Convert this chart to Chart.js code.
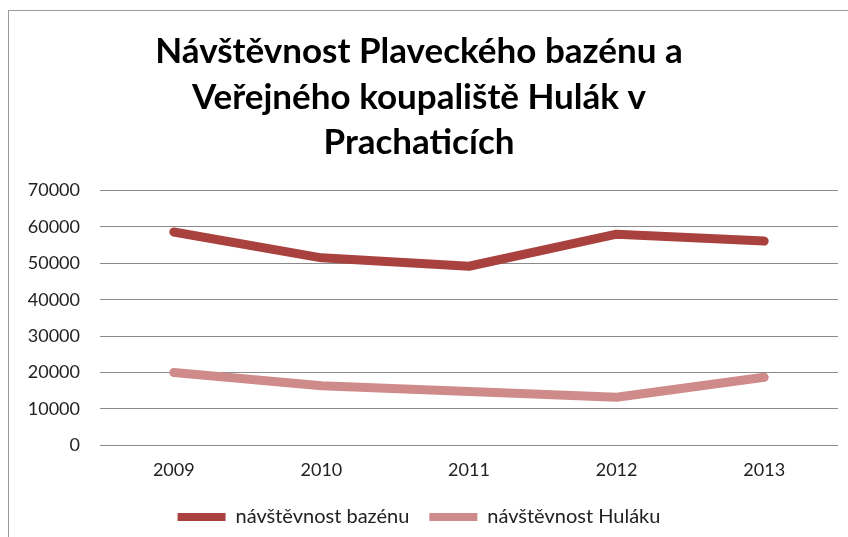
<!DOCTYPE html>
<html>
<head>
<meta charset="utf-8">
<script src="https://cdn.jsdelivr.net/npm/chart.js@4"></script>
<style>
  html, body { margin: 0; padding: 0; background: #fff; overflow: hidden; }
  #wrap { position: relative; width: 848px; height: 537px; }
  #frame {
    position: absolute; left: 8px; top: 10px; width: 900px; height: 600px;
    border: 1px solid #9a9a9a; box-sizing: border-box;
  }
  canvas { position: absolute; left: 0; top: 0; }
</style>
</head>
<body>
<div id="wrap">
  <div id="frame"></div>
  <canvas id="chart" width="848" height="537"></canvas>
</div>
<script>
// roky a návštěvnost
const years = ['2009', '2010', '2011', '2012', '2013'];
const bazen = [58600, 51500, 49200, 58000, 56100];
const hulak = [20000, 16400, 14800, 13200, 18700];
const yTicks = [0, 10000, 20000, 30000, 40000, 50000, 60000, 70000];

const titleLines = [
  'Návštěvnost Plaveckého bazénu a',
  'Veřejného koupaliště Hulák v',
  'Prachaticích'
];

const ctx = document.getElementById('chart');
new Chart(ctx, {
  type: 'line',
  data: {
    labels: years,
    datasets: [
      {
        label: 'návštěvnost bazénu',
        data: bazen,
        borderColor: '#a9423e',
        backgroundColor: '#a9423e',
        borderWidth: 9,
        pointRadius: 0,
        borderCapStyle: 'round',
        borderJoinStyle: 'round',
        tension: 0
      },
      {
        label: 'návštěvnost Huláku',
        data: hulak,
        borderColor: '#cf8b8a',
        backgroundColor: '#cf8b8a',
        borderWidth: 9,
        pointRadius: 0,
        borderCapStyle: 'round',
        borderJoinStyle: 'round',
        tension: 0
      }
    ]
  },
  options: {
    responsive: false,
    animation: false,
    layout: { padding: { left: 0, right: 10, top: 0, bottom: 0 } },
    plugins: {
      title: {
        display: true,
        text: titleLines,
        color: '#000',
        font: { family: 'Lato', size: 35, weight: 'bold', lineHeight: 1.3 },
        padding: { top: 29, bottom: 25 }
      },
      legend: {
        position: 'bottom',
        labels: {
          color: '#222',
          font: { family: 'Lato', size: 20 },
          boxWidth: 48,
          boxHeight: 8,
          padding: 20,
          generateLabels: (chart) => {
            // plné obdélníky bez obrysu místo silné čáry
            const items = Chart.defaults.plugins.legend.labels.generateLabels(chart);
            items.forEach(it => { it.lineWidth = 0; });
            return items;
          }
        }
      },
      tooltip: { enabled: false }
    },
    scales: {
      x: {
        offset: true,
        grid: { display: false },
        border: { display: false },
        ticks: {
          color: '#222',
          font: { family: 'Lato', size: 18 },
          padding: 6
        }
      },
      y: {
        min: 0,
        max: 70000,
        afterFit: (scale) => { scale.width = 100; },
        afterBuildTicks: (scale) => { scale.ticks = yTicks.map(v => ({ value: v })); },
        grid: { color: '#8a8a8a', lineWidth: 1, drawTicks: false },
        border: { display: false },
        ticks: {
          color: '#222',
          font: { family: 'Lato', size: 18 },
          padding: 20,
          callback: (v) => String(v)
        }
      }
    }
  }
});
</script>
</body>
</html>
